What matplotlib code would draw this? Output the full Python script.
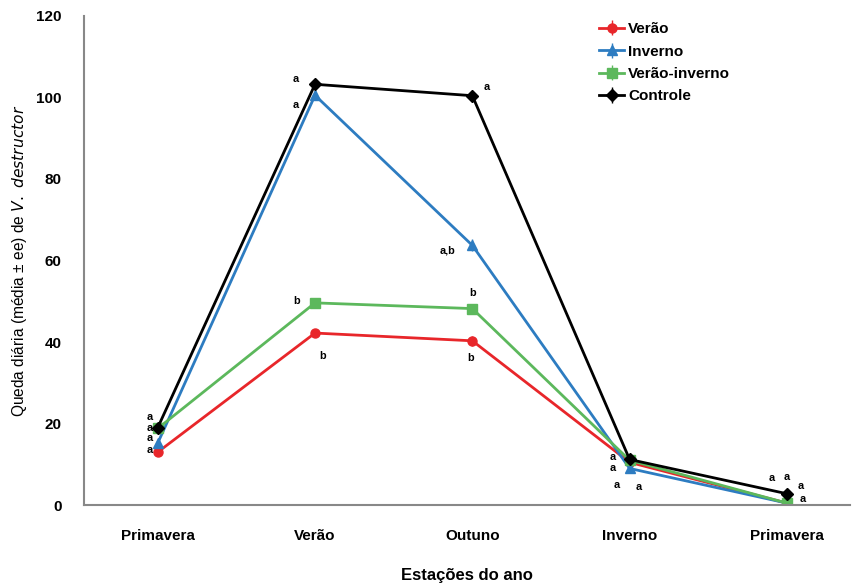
import matplotlib
matplotlib.use("Agg")
import matplotlib.pyplot as plt

plt.rcParams['font.family'] = ['Liberation Sans', 'DejaVu Sans']

categorias = ["Primavera", "Verão", "Outuno", "Inverno", "Primavera"]
verao = [13.0, 42.2, 40.3, 10.5, 0.5]
inverno = [15.2, 100.5, 63.7, 9.0, 0.5]
verao_inverno = [18.8, 49.6, 48.2, 11.0, 0.5]
controle = [19.0, 103.2, 100.4, 11.2, 2.8]
erro_verao = [0.8, 1.0, 1.2, 0.6, 0.3]
erro_inverno = [0.8, 1.2, 1.5, 0.6, 0.3]
erro_vi = [0.8, 1.0, 1.0, 0.6, 0.3]
erro_controle = [0.8, 1.0, 1.0, 0.6, 0.4]

# significance letters: (x index, y value, text)
letras = [
    (0, 21.6, "a"), (0, 19.0, "a"), (0, 16.4, "a"), (0, 13.6, "a"),
    (1, 104.5, "a"), (1, 98.0, "a"), (1, 50.0, "b"), (1, 36.5, "b"),
    (2, 102.5, "a"), (2, 62.5, "a,b"), (2, 52.0, "b"), (2, 36.0, "b"),
    (3, 11.7, "a"), (3, 9.0, "a"), (3, 5.0, "a"), (3, 4.5, "a"),
    (4, 6.6, "a"), (4, 6.8, "a"), (4, 4.6, "a"), (4, 1.6, "a"),
]
letras_dx = [-0.05, -0.05, -0.05, -0.05,
             -0.12, -0.12, -0.12, 0.05,
             0.09, -0.16, 0.0, -0.01,
             -0.11, -0.11, -0.08, 0.06,
             -0.1, 0.0, 0.09, 0.1]

x = list(range(len(categorias)))

fig = plt.figure(figsize=(8.55, 5.84), dpi=100)
ax = fig.add_axes([0.098, 0.135, 0.896, 0.838])

series = [
    ("Verão", verao, erro_verao, "#e8262a", "o"),
    ("Inverno", inverno, erro_inverno, "#2d7cc1", "^"),
    ("Verão-inverno", verao_inverno, erro_vi, "#5cb85c", "s"),
    ("Controle", controle, erro_controle, "#000000", "D"),
]
for nome, vals, err, cor, mk in series:
    ax.errorbar(x, vals, yerr=err, color=cor, marker=mk, markersize=6.5,
                linewidth=2, capsize=0, elinewidth=1, label=nome)

for (xi, yv, t), dx in zip(letras, letras_dx):
    ax.text(xi + dx, yv, t, fontsize=7.8, fontweight='bold', ha='center', va='center')

ax.set_xlim(-0.47, 4.4)
ax.set_ylim(0, 120)
ax.set_yticks([0, 20, 40, 60, 80, 100, 120])
ax.set_xticks(x)
ax.set_xticklabels(categorias)
for lab in ax.get_xticklabels() + ax.get_yticklabels():
    lab.set_fontweight('bold')
    lab.set_fontsize(11)
ax.tick_params(axis='x', length=0, pad=17)
ax.tick_params(axis='y', length=0, pad=16)

for s in ['top', 'right']:
    ax.spines[s].set_visible(False)
for s in ['left', 'bottom']:
    ax.spines[s].set_color('#888888')
    ax.spines[s].set_linewidth(1.5)

ax.set_xlabel("Estações do ano", fontsize=12, fontweight='bold', labelpad=18)
ax.set_ylabel("Queda diária (média ± ee) de $\\it{V.\\ destructor}$", fontsize=11.2, labelpad=5)

leg = ax.legend(loc='upper left', bbox_to_anchor=(0.655, 1.015), frameon=False,
                handlelength=1.6, handletextpad=0.3, labelspacing=0.55,
                prop={'weight': 'bold', 'size': 11})

fig.savefig("out.png", dpi=100)
